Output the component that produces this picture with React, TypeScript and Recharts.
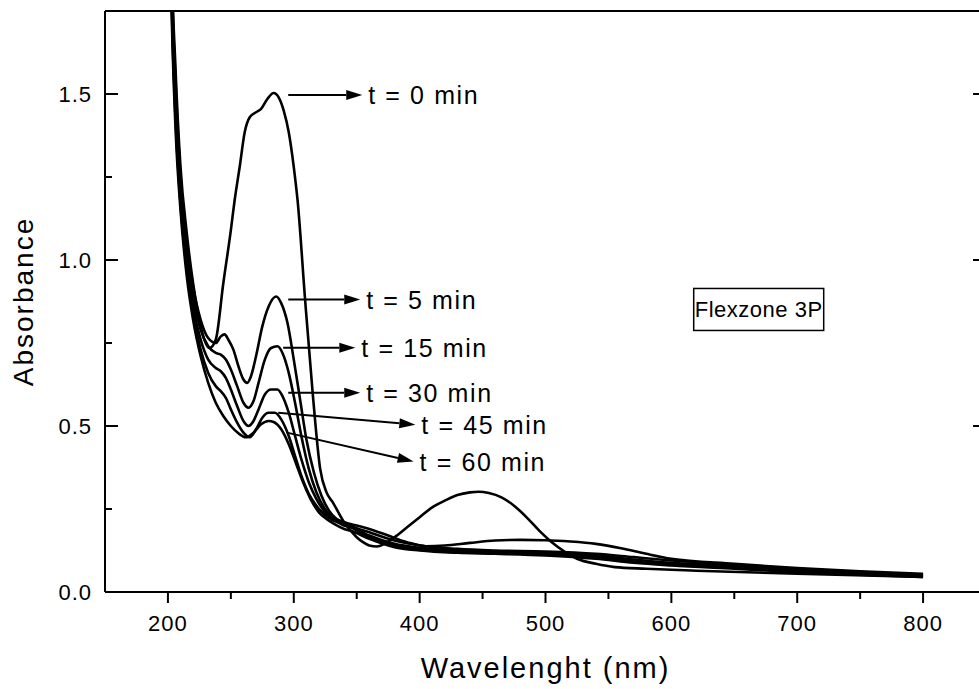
import React from 'react';
import { LineChart, Line, XAxis, YAxis, ReferenceLine, ReferenceDot, Label } from 'recharts';

const FONT = '"Liberation Sans", Arial, Helvetica, sans-serif';

// ---------- axes ----------
const xDomain = [150, 850];
const yDomain = [0, 1.75];
const xTicks = [200, 250, 300, 350, 400, 450, 500, 550, 600, 650, 700, 750, 800];
const xLabelValues = [200, 300, 400, 500, 600, 700, 800];
const yTicks = [0, 0.25, 0.5, 0.75, 1.0, 1.25, 1.5];
const yLabelValues = [0, 0.5, 1.0, 1.5];
const xTitle = 'Wavelenght (nm)';
const yTitle = 'Absorbance';
const boxText = 'Flexzone 3P';

// ---------- series (wavelength nm / absorbance) ----------
const t0Nm = [200, 203, 206, 210, 215, 220, 226, 233, 238, 244, 250, 253, 257, 261, 265, 270, 274, 279, 284, 288, 292, 296, 300, 303, 309, 315, 321, 326, 331, 340, 350, 355, 360, 366, 372, 380, 390, 400, 410, 420, 430, 440, 447, 455, 465, 475, 485, 495, 505, 515, 525, 540, 555, 580, 620, 700, 800];
const t0Abs = [2.9, 1.92, 1.58, 1.28, 1.08, 0.93, 0.8, 0.735, 0.76, 0.93, 1.09, 1.18, 1.28, 1.385, 1.43, 1.445, 1.455, 1.485, 1.503, 1.49, 1.45, 1.385, 1.28, 1.18, 0.88, 0.6, 0.37, 0.3, 0.27, 0.21, 0.165, 0.15, 0.14, 0.137, 0.145, 0.165, 0.195, 0.225, 0.255, 0.275, 0.292, 0.3, 0.302, 0.298, 0.285, 0.26, 0.225, 0.185, 0.15, 0.122, 0.1, 0.085, 0.075, 0.07, 0.064, 0.055, 0.045];

const t5Nm = [200, 203, 206, 210, 215, 220, 226, 232, 238, 242, 245, 248, 252, 256, 260, 263, 266, 270, 275, 280, 286, 290, 295, 300, 305, 310, 316, 322, 328, 334, 340, 345, 360, 375, 390, 405, 420, 440, 460, 480, 500, 520, 540, 560, 580, 600, 650, 700, 750, 800];
const t5Abs = [2.8, 1.88, 1.54, 1.25, 1.05, 0.92, 0.82, 0.765, 0.75, 0.77, 0.776, 0.76, 0.73, 0.68, 0.64, 0.63, 0.65, 0.71, 0.8, 0.86, 0.89, 0.87, 0.81, 0.7, 0.58, 0.46, 0.36, 0.29, 0.245, 0.22, 0.21, 0.205, 0.19, 0.17, 0.15, 0.138, 0.14, 0.148, 0.155, 0.157, 0.156, 0.152, 0.145, 0.132, 0.115, 0.1, 0.085, 0.072, 0.062, 0.055];

const t15Nm = [200, 203, 206, 210, 215, 220, 226, 232, 238, 242, 246, 250, 255, 260, 264, 268, 272, 277, 282, 287, 291, 296, 301, 306, 312, 318, 324, 330, 336, 340, 345, 360, 380, 400, 430, 460, 500, 540, 570, 600, 650, 700, 750, 800];
const t15Abs = [2.7, 1.84, 1.5, 1.22, 1.02, 0.89, 0.79, 0.74, 0.72, 0.715, 0.7, 0.67, 0.62, 0.57, 0.555, 0.575, 0.63, 0.7, 0.735, 0.74, 0.72, 0.66, 0.57, 0.47, 0.37, 0.3, 0.255, 0.228, 0.215, 0.21, 0.2, 0.18, 0.155, 0.14, 0.13, 0.125, 0.122, 0.115, 0.105, 0.095, 0.082, 0.07, 0.06, 0.052];

const t30Nm = [200, 203, 206, 210, 215, 220, 226, 232, 238, 242, 246, 250, 255, 260, 264, 268, 272, 277, 282, 287, 291, 296, 301, 306, 312, 318, 324, 330, 336, 340, 345, 360, 380, 400, 430, 460, 500, 540, 570, 600, 650, 700, 750, 800];
const t30Abs = [2.6, 1.8, 1.46, 1.19, 0.99, 0.86, 0.76, 0.7, 0.675, 0.665, 0.645, 0.61, 0.56, 0.515, 0.5, 0.515, 0.55, 0.595, 0.61, 0.61, 0.59, 0.54, 0.47, 0.4, 0.33, 0.28, 0.245, 0.222, 0.21, 0.205, 0.198, 0.17, 0.145, 0.133, 0.125, 0.12, 0.117, 0.11, 0.098, 0.088, 0.078, 0.066, 0.057, 0.05];

const t45Nm = [200, 203, 206, 210, 215, 220, 226, 232, 238, 242, 246, 250, 255, 260, 265, 270, 275, 280, 285, 290, 296, 301, 306, 312, 318, 324, 330, 336, 340, 345, 360, 380, 400, 430, 460, 500, 540, 570, 600, 650, 700, 750, 800];
const t45Abs = [2.5, 1.77, 1.43, 1.17, 0.97, 0.84, 0.73, 0.66, 0.62, 0.605, 0.585, 0.55, 0.51, 0.48, 0.466, 0.49, 0.525, 0.54, 0.54, 0.52, 0.47, 0.41, 0.35, 0.295, 0.26, 0.235, 0.218, 0.208, 0.2, 0.195, 0.165, 0.14, 0.128, 0.12, 0.117, 0.113, 0.105, 0.092, 0.083, 0.073, 0.063, 0.054, 0.047];

const t60Nm = [200, 203, 206, 210, 215, 220, 226, 232, 238, 244, 250, 256, 262, 268, 274, 280, 284, 290, 296, 302, 308, 314, 320, 326, 332, 340, 345, 360, 380, 400, 430, 460, 500, 540, 570, 600, 650, 700, 750, 800];
const t60Abs = [2.4, 1.74, 1.4, 1.15, 0.95, 0.82, 0.71, 0.63, 0.57, 0.53, 0.5, 0.478, 0.466, 0.48, 0.505, 0.515, 0.512, 0.49, 0.445, 0.385, 0.325, 0.275, 0.24, 0.22, 0.205, 0.19, 0.185, 0.16, 0.135, 0.125, 0.118, 0.115, 0.11, 0.1, 0.088, 0.08, 0.07, 0.06, 0.052, 0.045];

const seriesNames = ['t = 0 min', 't = 5 min', 't = 15 min', 't = 30 min', 't = 45 min', 't = 60 min'];
const seriesNm = [t0Nm, t5Nm, t15Nm, t30Nm, t45Nm, t60Nm];
const seriesAbs = [t0Abs, t5Abs, t15Abs, t30Abs, t45Abs, t60Abs];

// ---------- annotation arrows (data coordinates) ----------
const arrowFromNm = [295.6, 295.6, 291.6, 295.6, 287.6, 294.5];
const arrowFromAbs = [1.497, 0.881, 0.736, 0.6, 0.54, 0.48];
const arrowToNm = [354.4, 352.8, 348.9, 352.8, 396.6, 395.2];
const arrowToAbs = [1.497, 0.881, 0.736, 0.6, 0.504, 0.393];
const boxNm = 669.4;
const boxAbs = 0.851;

const lineData = seriesNm.map((nms, i) => nms.map((nm, j) => ({ nm, a: seriesAbs[i][j] })));

const TICK_FS = 22;

const BottomTick = (props: any) => {
  const { x, y, payload } = props;
  const v = payload.value;
  const major = xLabelValues.includes(v);
  return (
    <g>
      <line x1={x} x2={x} y1={y} y2={y + (major ? 11 : 7)} stroke="#000" strokeWidth={2} />
      {major && (
        <text x={x} y={y + 39} textAnchor="middle" fontFamily={FONT} fontSize={TICK_FS} fill="#000" letterSpacing={1}>
          {v}
        </text>
      )}
    </g>
  );
};

const TopTick = (props: any) => {
  const { x, y, payload } = props;
  const major = xLabelValues.includes(payload.value);
  return <line x1={x} x2={x} y1={y} y2={y + (major ? 13 : 7)} stroke="#000" strokeWidth={2} />;
};

const LeftTick = (props: any) => {
  const { x, y, payload } = props;
  const v = payload.value;
  const major = yLabelValues.includes(v);
  return (
    <g>
      <line x1={x} x2={x + (major ? 13 : 7)} y1={y} y2={y} stroke="#000" strokeWidth={2} />
      {major && (
        <text x={x - 13} y={y + 8} textAnchor="end" fontFamily={FONT} fontSize={TICK_FS} fill="#000" letterSpacing={1}>
          {v.toFixed(1)}
        </text>
      )}
    </g>
  );
};

const RightTick = (props: any) => {
  const { x, y, payload } = props;
  const major = yLabelValues.includes(payload.value);
  return <line x1={x} x2={x - (major ? 13 : 7)} y1={y} y2={y} stroke="#000" strokeWidth={2} />;
};

const XTitle = (props: any) => {
  const vb = props.viewBox;
  return (
    <text x={vb.x + vb.width / 2} y={vb.y + 86} textAnchor="middle" fontFamily={FONT} fontSize={29} letterSpacing={2} fill="#000">
      {xTitle}
    </text>
  );
};

const YTitle = (props: any) => {
  const vb = props.viewBox;
  const cx = 33;
  const cy = vb.y + vb.height / 2;
  return (
    <text x={cx} y={cy} textAnchor="middle" transform={`rotate(-90, ${cx}, ${cy})`} fontFamily={FONT} fontSize={28} letterSpacing={2} fill="#000">
      {yTitle}
    </text>
  );
};

const makeArrow = (label: string) => (props: any) => {
  const { x1, y1, x2, y2 } = props;
  const ang = Math.atan2(y2 - y1, x2 - x1);
  const L = 16;
  const W = 5;
  const bx = x2 - L * Math.cos(ang);
  const by = y2 - L * Math.sin(ang);
  const px = -Math.sin(ang) * W;
  const py = Math.cos(ang) * W;
  return (
    <g>
      <line x1={x1} y1={y1} x2={bx} y2={by} stroke="#000" strokeWidth={2} />
      <polygon points={`${x2},${y2} ${bx + px},${by + py} ${bx - px},${by - py}`} fill="#000" />
      <text x={x2 + 6} y={y2 + 9} fontFamily={FONT} fontSize={25} letterSpacing={1.6} fill="#000">
        {label}
      </text>
    </g>
  );
};

const BoxShape = (props: any) => {
  const { cx, cy } = props;
  const w = 130;
  const h = 42;
  return (
    <g>
      <rect x={cx - w / 2} y={cy - h / 2} width={w} height={h} fill="#fff" stroke="#000" strokeWidth={1.5} />
      <text x={cx} y={cy + 8} textAnchor="middle" fontFamily={FONT} fontSize={22} letterSpacing={0.5} fill="#000">
        {boxText}
      </text>
    </g>
  );
};

export default function App() {
  return (
    <div style={{ position: 'absolute', left: 0, top: 0, width: 979, height: 689, overflow: 'hidden', background: '#fff' }}>
      <LineChart width={1000} height={689} margin={{ top: 10, right: 0, bottom: 0, left: 0 }}>
        <XAxis
          dataKey="nm"
          type="number"
          domain={xDomain}
          ticks={xTicks}
          interval={0}
          allowDataOverflow
          height={97}
          tickSize={0}
          tickMargin={0}
          tickLine={false}
          axisLine={{ stroke: '#000', strokeWidth: 2 }}
          tick={(p: any) => <BottomTick {...p} />}
        >
          <Label content={XTitle} />
        </XAxis>
        <XAxis
          xAxisId="top"
          orientation="top"
          type="number"
          domain={xDomain}
          ticks={xTicks}
          interval={0}
          allowDataOverflow
          height={1}
          tickSize={0}
          tickMargin={0}
          tickLine={false}
          axisLine={{ stroke: '#000', strokeWidth: 2 }}
          tick={(p: any) => <TopTick {...p} />}
        />
        <YAxis
          type="number"
          domain={yDomain}
          ticks={yTicks}
          interval={0}
          allowDataOverflow
          width={105}
          tickSize={0}
          tickMargin={0}
          tickLine={false}
          axisLine={{ stroke: '#000', strokeWidth: 2 }}
          tick={(p: any) => <LeftTick {...p} />}
        >
          <Label content={YTitle} />
        </YAxis>
        <YAxis
          yAxisId="right"
          orientation="right"
          type="number"
          domain={yDomain}
          ticks={yTicks}
          interval={0}
          allowDataOverflow
          width={14}
          tickSize={0}
          tickMargin={0}
          tickLine={false}
          axisLine={{ stroke: '#000', strokeWidth: 2 }}
          tick={(p: any) => <RightTick {...p} />}
        />
        {lineData.map((d, i) => (
          <Line
            key={seriesNames[i]}
            data={d}
            dataKey="a"
            name={seriesNames[i]}
            type="monotone"
            stroke="#000"
            strokeWidth={2.6}
            dot={false}
            activeDot={false}
            isAnimationActive={false}
          />
        ))}
        {seriesNames.map((name, i) => (
          <ReferenceLine
            key={'arr' + i}
            segment={[
              { x: arrowFromNm[i], y: arrowFromAbs[i] },
              { x: arrowToNm[i], y: arrowToAbs[i] },
            ]}
            shape={makeArrow(name)}
          />
        ))}
        <ReferenceDot x={boxNm} y={boxAbs} r={0} shape={(p: any) => <BoxShape {...p} />} />
      </LineChart>
    </div>
  );
}
